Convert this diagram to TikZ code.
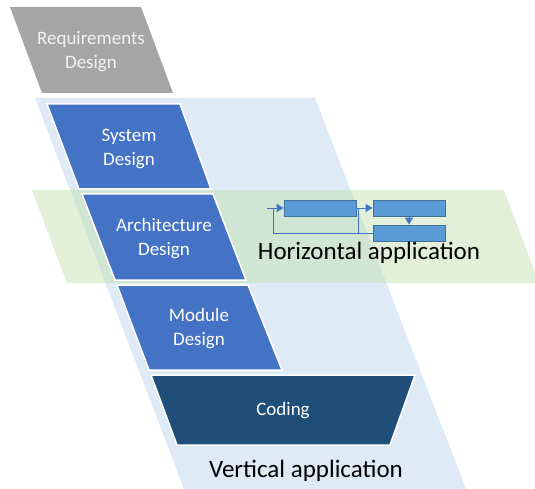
\documentclass[tikz,border=0pt]{standalone}
\usepackage{fontspec}
\setmainfont{Carlito}
\usetikzlibrary{arrows.meta}
\definecolor{vblue}{HTML}{DEEBF7}
\definecolor{hgreen}{HTML}{C5E0B4}
\definecolor{boxblue}{HTML}{4472C4}
\definecolor{codeblue}{HTML}{1F4E79}
\definecolor{reqgray}{HTML}{A5A5A5}
\definecolor{minifill}{HTML}{5B9BD5}
\definecolor{miniedge}{HTML}{41719C}
\definecolor{miniline}{HTML}{4472C4}
\tikzset{
  stage/.style={draw=white, line width=1.5pt, line join=miter},
  stagetext/.style={text=white, font=\fontsize{19}{24}\selectfont, align=center},
  bigtext/.style={text=black, font=\fontsize{25}{29}\selectfont},
  minibox/.style={draw=miniedge, fill=minifill, line width=0.8pt, minimum width=72pt, minimum height=16pt, inner sep=0pt},
  miniarrow/.style={draw=miniline, line width=1pt, -{Triangle[length=7pt,width=8pt]}},
  miniline/.style={draw=miniline, line width=1pt}
}
\begin{document}
\begin{tikzpicture}[x=1pt,y=-1pt]
\useasboundingbox (0,0) rectangle (535,489);
% vertical application region
\fill[vblue] (35,98) -- (315,98) -- (466,489) -- (184,489) -- cycle;
% horizontal application region
\fill[hgreen, opacity=0.5] (32,190) -- (504,190) -- (539,283) -- (67,283) -- cycle;
% requirements
\fill[reqgray] (10,7) -- (141,7) -- (173,93) -- (42,93) -- cycle;
\node[stagetext, text=white!95!black] (req) at (91,52) {Requirements\\Design};
% system design
\filldraw[stage, fill=boxblue] (47,104) -- (180,104) -- (211,189) -- (79,189) -- cycle;
\node[stagetext] (sys) at (129,149) {System\\Design};
% architecture design
\filldraw[stage, fill=boxblue] (82,194) -- (213,194) -- (246,280) -- (115,280) -- cycle;
\node[stagetext] (arch) at (164,239) {Architecture\\Design};
% module design
\filldraw[stage, fill=boxblue] (117,285) -- (248,285) -- (282,370) -- (149,370) -- cycle;
\node[stagetext] (mod) at (199,329) {Module\\Design};
% coding
\filldraw[stage, fill=codeblue] (151,375) -- (415,375) -- (390,445) -- (177,445) -- cycle;
\node[stagetext] (code) at (283,411) {Coding};
% mini diagram
\node[minibox] (b1) at (320,208) {};
\node[minibox] (b2) at (409,208) {};
\node[minibox] (b3) at (409,233) {};
\coordinate (fbin) at (267,208);
\coordinate (fbcorner) at (273,233);
\coordinate (fbtop) at (273,208);
\coordinate (brtop) at (358,208);
\coordinate (brbot) at (358,233);
\draw[miniarrow] (b1.east) -- (b2.west);
\draw[miniarrow] (b2.south) -- (b3.north);
\draw[miniline] (b3.west) -- (fbcorner) -- (fbtop);
\draw[miniline] (brtop) -- (brbot);
\draw[miniarrow] (fbin) -- (b1.west);
\node[bigtext] (hor) at (369,253) {Horizontal application};
\node[bigtext] (ver) at (306,471) {Vertical application};
\end{tikzpicture}
\end{document}
